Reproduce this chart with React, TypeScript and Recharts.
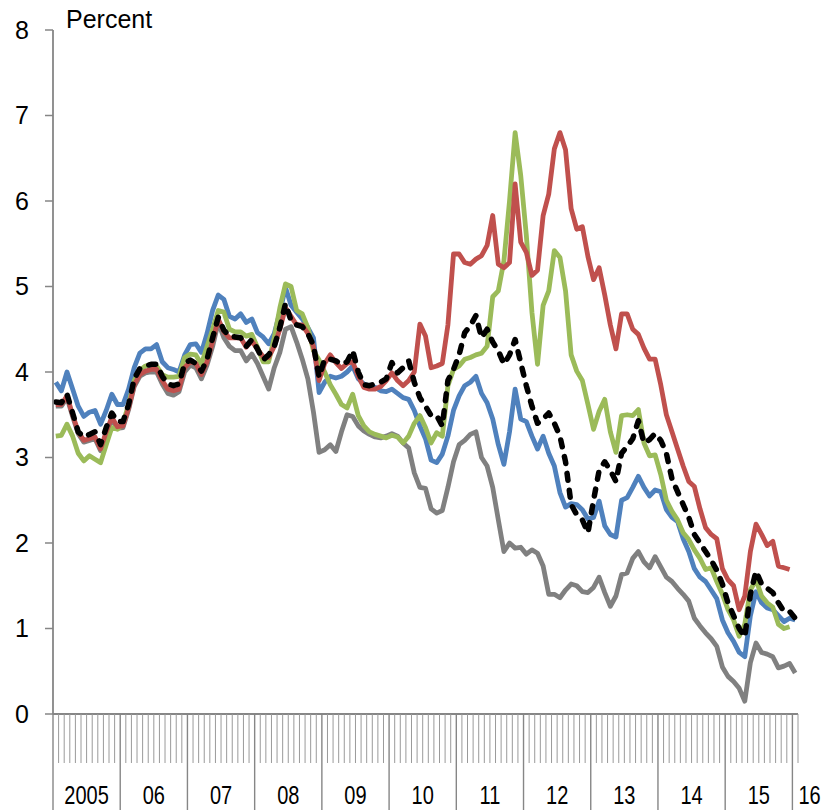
import React from 'react';
import { LineChart, Line, XAxis, YAxis } from 'recharts';

const MONTHS = 133; // Jan 2005 .. Jan 2016
const YEAR_LABELS = ['2005', '06', '07', '08', '09', '10', '11', '12', '13', '14', '15', '16'];
const Y_TICKS = [0, 1, 2, 3, 4, 5, 6, 7, 8];
const Y_LABEL = 'Percent';

const SERIES_BLUE = [
  3.88, 3.78, 4.0, 3.8, 3.6, 3.48, 3.53, 3.55, 3.39, 3.55, 3.74, 3.62,
  3.62, 3.8, 4.05, 4.22, 4.27, 4.27, 4.32, 4.12, 4.05, 4.03, 4.0, 4.2,
  4.32, 4.33, 4.23, 4.45, 4.72, 4.9, 4.85, 4.65, 4.62, 4.68, 4.58, 4.62,
  4.46, 4.41, 4.33, 4.45, 4.7, 4.99, 4.78, 4.7, 4.62, 4.52, 4.4, 3.76,
  3.88, 3.95, 3.93, 3.95, 4.0, 4.07, 3.92, 3.86, 3.84, 3.82, 3.78, 3.77,
  3.8, 3.75, 3.7, 3.68, 3.55, 3.37, 3.22, 2.97, 2.94, 3.04, 3.25, 3.55,
  3.72, 3.84, 3.88, 3.95, 3.75, 3.64, 3.45, 3.15, 2.92, 3.3, 3.8, 3.45,
  3.42, 3.25, 3.1, 3.25, 3.05, 2.9, 2.59, 2.42, 2.46, 2.45, 2.39, 2.28,
  2.3, 2.49, 2.2, 2.1, 2.07, 2.5, 2.53, 2.65, 2.78, 2.65, 2.55, 2.62,
  2.6, 2.39, 2.3, 2.25, 2.05, 1.9, 1.7, 1.6, 1.55, 1.45, 1.35, 1.1,
  0.95, 0.85, 0.72, 0.67, 1.15, 1.43, 1.3, 1.24, 1.22, 1.15, 1.08, 1.12, 1.1,
];

const SERIES_RED = [
  3.62, 3.62, 3.72, 3.5, 3.3, 3.2, 3.22, 3.24, 3.1, 3.3, 3.47, 3.36,
  3.37, 3.58, 3.85, 3.97, 4.01, 4.03, 4.03, 3.9, 3.8, 3.78, 3.8, 4.05,
  4.12, 4.1, 3.97, 4.12, 4.36, 4.62, 4.47, 4.4, 4.4, 4.4, 4.29, 4.36,
  4.27, 4.18, 4.17, 4.3, 4.5, 4.75, 4.65, 4.55, 4.55, 4.45, 4.3, 3.9,
  4.1, 4.2, 4.11, 4.04, 4.1, 4.12, 3.95, 3.82, 3.8, 3.8, 3.83, 3.9,
  3.99, 3.9, 3.84, 3.9, 4.0, 4.56, 4.42, 4.05, 4.07, 4.1, 4.55, 5.38,
  5.38, 5.28, 5.26, 5.32, 5.36, 5.48, 5.83, 5.26, 5.22, 5.28, 6.2, 5.52,
  5.4, 5.13, 5.19, 5.83, 6.08, 6.61, 6.8, 6.6, 5.91, 5.67, 5.7, 5.35,
  5.08, 5.22, 4.9, 4.55, 4.27, 4.68, 4.68, 4.5, 4.44, 4.28, 4.15, 4.15,
  3.85, 3.5, 3.3, 3.1, 2.9, 2.72, 2.66, 2.4, 2.18, 2.1, 2.05, 1.7,
  1.57, 1.5, 1.22, 1.38, 1.9, 2.22, 2.1, 1.97, 2.02, 1.73, 1.71, 1.69, null,
];

const SERIES_GREEN = [
  3.25, 3.26, 3.39, 3.25, 3.05, 2.96, 3.02, 2.98, 2.94, 3.15, 3.35, 3.33,
  3.4, 3.62, 3.9, 4.02, 4.07, 4.09, 4.07, 3.97, 3.94, 3.94, 3.95, 4.17,
  4.21, 4.2, 4.09, 4.3, 4.5, 4.72, 4.7, 4.5, 4.47, 4.47, 4.42, 4.44,
  4.29, 4.12, 4.12, 4.4, 4.75, 5.03, 5.0, 4.72, 4.68, 4.52, 4.25, 4.14,
  4.0, 3.85, 3.74, 3.62, 3.58, 3.74, 3.49, 3.37, 3.3, 3.27, 3.25, 3.23,
  3.26, 3.24, 3.17, 3.25, 3.4, 3.49, 3.35, 3.17, 3.29, 3.25, 3.84, 4.03,
  4.07, 4.15, 4.17, 4.2, 4.22, 4.3, 4.88, 4.95, 5.3, 6.0, 6.8, 6.3,
  5.6, 4.7, 4.09, 4.78, 4.95, 5.42, 5.34, 4.95, 4.2, 4.01, 3.9, 3.62,
  3.33, 3.54, 3.68, 3.3, 3.06, 3.49, 3.5, 3.49, 3.56, 3.17, 3.02, 3.03,
  2.8, 2.5, 2.37, 2.27, 2.12, 2.04, 1.92, 1.82, 1.69, 1.71, 1.55, 1.4,
  1.22, 1.1, 0.91, 1.05, 1.45, 1.57, 1.38, 1.3, 1.25, 1.05, 1.0, 1.02, null,
];

const SERIES_GRAY = [
  3.6, 3.6, 3.7, 3.48, 3.28, 3.18, 3.2, 3.22, 3.08, 3.28, 3.45, 3.34,
  3.35, 3.56, 3.83, 3.95, 3.99, 4.0, 4.0, 3.86, 3.75, 3.73, 3.77, 4.0,
  4.08, 4.05, 3.92, 4.08, 4.3, 4.58, 4.4, 4.3, 4.25, 4.25, 4.13, 4.21,
  4.1, 3.95, 3.8, 4.05, 4.23, 4.5, 4.53, 4.35, 4.15, 3.92, 3.53, 3.06,
  3.09, 3.15, 3.07, 3.3, 3.5, 3.48, 3.37, 3.31, 3.27, 3.24, 3.23, 3.25,
  3.28, 3.25, 3.17, 3.11, 2.82, 2.65, 2.64, 2.4, 2.35, 2.38, 2.65, 2.95,
  3.15, 3.2, 3.27, 3.3, 3.0, 2.9, 2.65, 2.27, 1.9, 2.0, 1.94, 1.95,
  1.87, 1.92, 1.88, 1.73, 1.4, 1.4, 1.36, 1.45, 1.52, 1.5, 1.43, 1.42,
  1.48, 1.6, 1.42, 1.26, 1.38, 1.63, 1.65, 1.82, 1.9, 1.78, 1.71, 1.84,
  1.72, 1.6, 1.55, 1.47, 1.4, 1.32, 1.12, 1.03, 0.95, 0.88, 0.79, 0.55,
  0.44, 0.38, 0.3, 0.15, 0.6, 0.83, 0.72, 0.7, 0.67, 0.54, 0.56, 0.59, 0.48,
];

const SERIES_BLACK = [
  3.65, 3.64, 3.74, 3.52, 3.3, 3.24, 3.27, 3.3, 3.15, 3.35, 3.52, 3.42,
  3.42, 3.62, 3.92, 4.04, 4.07, 4.09, 4.09, 3.95, 3.86, 3.84, 3.86, 4.1,
  4.14, 4.1, 4.01, 4.15, 4.4, 4.64, 4.49, 4.42, 4.41, 4.4, 4.3, 4.38,
  4.27, 4.14, 4.2, 4.3, 4.52, 4.8, 4.6, 4.55, 4.53, 4.45, 4.31, 3.94,
  4.15, 4.15, 4.13, 4.09, 4.12, 4.25, 4.0, 3.85, 3.84, 3.86, 3.88, 3.92,
  4.11, 3.99, 4.05, 4.13, 3.88, 3.7, 3.6, 3.49, 3.49, 3.37, 3.9, 4.03,
  4.2, 4.46, 4.54, 4.66, 4.4, 4.5, 4.35, 4.25, 4.09, 4.2, 4.38, 4.11,
  3.84, 3.6, 3.4, 3.45, 3.52, 3.4, 3.25, 2.95, 2.45, 2.33, 2.27, 2.12,
  2.5, 2.85, 2.95, 2.85, 2.72, 3.05, 3.13, 3.22, 3.43, 3.17, 3.21, 3.28,
  3.2, 3.05, 2.75, 2.6, 2.45, 2.3, 2.1, 2.0, 1.9, 1.8, 1.68, 1.52,
  1.3, 1.15, 1.0, 0.9, 1.4, 1.67, 1.52, 1.47, 1.42, 1.3, 1.2, 1.2, 1.12,
];

const data = Array.from({ length: MONTHS }, (_, i) => ({
  i,
  blue: SERIES_BLUE[i],
  red: SERIES_RED[i],
  green: SERIES_GREEN[i],
  gray: SERIES_GRAY[i],
  black: SERIES_BLACK[i],
}));

// month boundaries for the tick marks
const X_TICKS = Array.from({ length: MONTHS + 1 }, (_, k) => k - 0.5);

// layout
const W = 840;
const H = 810;
const M_TOP = 30;
const M_RIGHT = 42;
const Y_AXIS_W = 53;
const X_AXIS_H = 96;
const PLOT_W = W - Y_AXIS_W - M_RIGHT;
const MONTH_W = PLOT_W / MONTHS;
const FONT = "'Liberation Sans', Arial, Helvetica, sans-serif";
const AXIS_COLOR = '#868686';

const XTick = (props: any) => {
  const { x, y, payload } = props;
  const k = Math.round(payload.value + 0.5);
  const isYear = k % 12 === 0;
  const yearIdx = k / 12;
  const isLast = yearIdx === YEAR_LABELS.length - 1;
  return (
    <g>
      <line
        x1={x}
        x2={x}
        y1={y}
        y2={y + (isYear ? 100 : 49)}
        stroke={isYear ? AXIS_COLOR : '#9a9a9a'}
        strokeWidth={isYear ? 1.4 : 1}
      />
      {isYear && yearIdx < YEAR_LABELS.length && (
        <text
          transform={`translate(${isLast ? x + 6 : x + MONTH_W * 6}, ${y + 90}) scale(0.8, 1)`}
          textAnchor={isLast ? 'start' : 'middle'}
          fontSize={25}
          fontFamily={FONT}
          fill="#000"
        >
          {YEAR_LABELS[yearIdx]}
        </text>
      )}
    </g>
  );
};

export default function App() {
  return (
    <div style={{ position: 'absolute', left: 0, top: 0, width: W, height: H, background: '#fff' }}>
      <LineChart
        width={W}
        height={H}
        data={data}
        margin={{ top: M_TOP, right: M_RIGHT, left: 0, bottom: 0 }}
      >
        <XAxis
          dataKey="i"
          type="number"
          domain={[-0.5, MONTHS - 0.5]}
          ticks={X_TICKS}
          interval={0}
          height={X_AXIS_H}
          tickSize={0}
          tickMargin={0}
          tickLine={false}
          axisLine={{ stroke: AXIS_COLOR, strokeWidth: 1.8 }}
          tick={<XTick />}
        />
        <YAxis
          domain={[0, 8]}
          ticks={Y_TICKS}
          interval={0}
          width={Y_AXIS_W}
          tickSize={8}
          tickMargin={16}
          axisLine={{ stroke: AXIS_COLOR, strokeWidth: 1.8 }}
          tickLine={{ stroke: AXIS_COLOR, strokeWidth: 1.5 }}
          tick={{ fill: '#000', fontSize: 25, fontFamily: FONT }}
        />
        <Line type="linear" dataKey="gray" stroke="#808080" strokeWidth={4.8} dot={false} isAnimationActive={false} strokeLinejoin="round" />
        <Line type="linear" dataKey="blue" stroke="#4F81BD" strokeWidth={4.8} dot={false} isAnimationActive={false} strokeLinejoin="round" />
        <Line type="linear" dataKey="green" stroke="#9BBB59" strokeWidth={4.8} dot={false} isAnimationActive={false} strokeLinejoin="round" />
        <Line type="linear" dataKey="red" stroke="#C0504D" strokeWidth={4.8} dot={false} isAnimationActive={false} strokeLinejoin="round" />
        <Line type="linear" dataKey="black" stroke="#000" strokeWidth={5.5} strokeDasharray="7 10" strokeLinecap="round" dot={false} isAnimationActive={false} strokeLinejoin="round" />
      </LineChart>
      <svg width={200} height={40} style={{ position: 'absolute', left: 0, top: 0 }}>
        <text x={66} y={28} fontSize={25} fontFamily={FONT} fill="#000">{Y_LABEL}</text>
      </svg>
    </div>
  );
}
